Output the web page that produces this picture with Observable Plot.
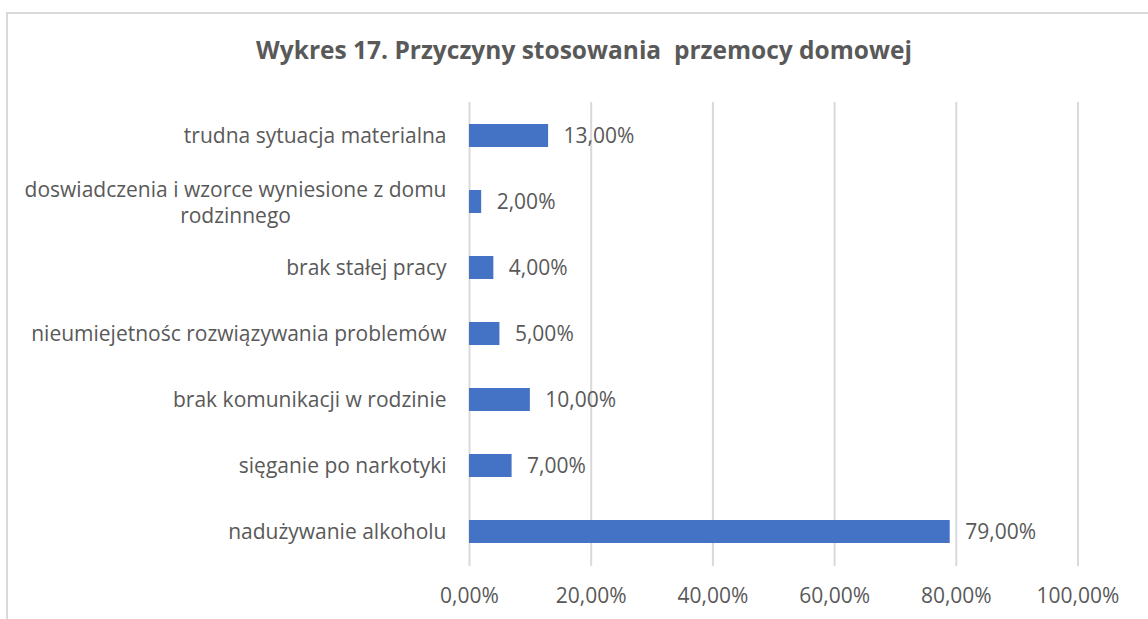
<!DOCTYPE html>
<html>
<head>
<meta charset="utf-8">
<script src="https://cdn.jsdelivr.net/npm/d3@7"></script>
<script src="https://cdn.jsdelivr.net/npm/@observablehq/plot@0.6"></script>
<style>
  html, body { margin: 0; padding: 0; background: #fff; overflow: hidden; }
  body { width: 1148px; height: 619px; position: relative; font-family: "Open Sans", sans-serif; }
  #frame { position: absolute; left: 6px; top: 12px; width: 1200px; height: 700px; border: 2px solid #d9d9d9; box-sizing: border-box; }
  #title { position: absolute; left: 0; top: 33px; width: 1168px; text-align: center; white-space: pre; line-height: 34px;
           font-family: "Open Sans", sans-serif; font-weight: bold; font-size: 24.5px; color: #595959; }
  #chart { position: absolute; left: 0; top: 80px; }
</style>
</head>
<body>
<div id="frame"></div>
<div id="title">Wykres 17. Przyczyny stosowania  przemocy domowej</div>
<div id="chart"></div>
<script>
const categories = [
  "trudna sytuacja materialna",
  "doswiadczenia i wzorce wyniesione z domu\nrodzinnego",
  "brak stałej pracy",
  "nieumiejetnośc rozwiązywania problemów",
  "brak komunikacji w rodzinie",
  "sięganie po narkotyki",
  "nadużywanie alkoholu"
];
const values = [13, 2, 4, 5, 10, 7, 79];
const xTicks = [0, 20, 40, 60, 80, 100];

const data = categories.map((c, i) => ({category: c, value: values[i]}));
const fmt = v => v.toFixed(2).replace(".", ",") + "%";

const font = "\"Open Sans\", sans-serif";
const fontSize = 21;
const gray = "#595959";
const labelGap = 23;

const ctx = document.createElement("canvas").getContext("2d");
ctx.font = `${fontSize}px "Open Sans"`;
const single = data.filter(d => !d.category.includes("\n"));
const multi = data.filter(d => d.category.includes("\n"));
const multiWidth = d3.max(multi, d => d3.max(d.category.split("\n"), l => ctx.measureText(l).width)) || 0;

const plot = Plot.plot({
  width: 1148,
  height: 539,
  marginLeft: 469,
  marginRight: 70.5,
  marginTop: 22,
  marginBottom: 53,
  style: {fontFamily: font, fontSize: fontSize + "px", color: gray, background: "transparent"},
  x: {domain: [0, 100], ticks: xTicks, axis: null},
  y: {domain: categories, paddingInner: 0.65, paddingOuter: 0.325, axis: null},
  marks: [
    Plot.gridX(xTicks, {stroke: "#d9d9d9", strokeOpacity: 1, strokeWidth: 2}),
    Plot.barX(data, {x: "value", y: "category", fill: "#4472C4"}),
    Plot.text(data, {x: "value", y: "category", text: d => fmt(d.value), textAnchor: "start", dx: 15, fill: gray, fontSize: fontSize}),
    Plot.axisX({ticks: xTicks, tickFormat: fmt, tickSize: 0, tickPadding: 22, fontSize: fontSize, fill: gray, label: null}),
    Plot.text(single, {y: "category", text: "category", frameAnchor: "left", textAnchor: "end", dx: -labelGap, fill: gray}),
    Plot.text(multi, {y: "category", text: "category", frameAnchor: "left", textAnchor: "middle", dx: -(labelGap + multiWidth / 2), lineHeight: 1.24, fill: gray})
  ]
});
document.getElementById("chart").appendChild(plot);
</script>
</body>
</html>
